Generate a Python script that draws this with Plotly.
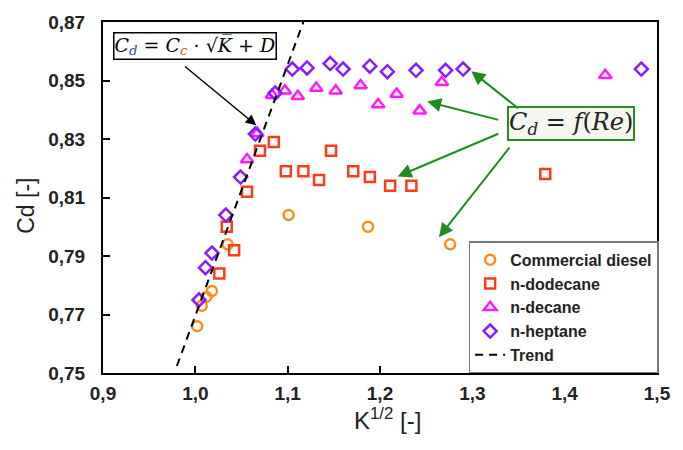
import plotly.graph_objects as go

# Discharge coefficient vs. square root of cavitation number
diesel_x = [1.002, 1.007, 1.012, 1.018, 1.035, 1.101, 1.187, 1.276]
diesel_y = [0.766, 0.773, 0.776, 0.778, 0.794, 0.804, 0.800, 0.794]

dodecane_x = [1.026, 1.034, 1.042, 1.056, 1.070, 1.085, 1.098, 1.117, 1.134,
              1.147, 1.171, 1.189, 1.211, 1.234, 1.379]
dodecane_y = [0.784, 0.800, 0.792, 0.812, 0.826, 0.829, 0.819, 0.819, 0.816,
              0.826, 0.819, 0.817, 0.814, 0.814, 0.818]

decane_x = [1.056, 1.067, 1.083, 1.097, 1.111, 1.131, 1.152, 1.179, 1.198,
            1.218, 1.243, 1.267, 1.444]
decane_y = [0.823, 0.832, 0.845, 0.8465, 0.8446, 0.8474, 0.8465, 0.8483, 0.8418,
            0.8454, 0.8397, 0.8494, 0.8518]

heptane_x = [1.004, 1.011, 1.018, 1.033, 1.049, 1.065, 1.0865, 1.105, 1.121,
             1.146, 1.160, 1.189, 1.208, 1.239, 1.271, 1.290, 1.483]
heptane_y = [0.775, 0.786, 0.791, 0.804, 0.817, 0.8317, 0.8457, 0.8539, 0.8543,
             0.8558, 0.8539, 0.8549, 0.853, 0.8535, 0.8535, 0.8539, 0.8539]

trend_x = [0.980, 1.117]
trend_y = [0.7524, 0.870]

x_ticks = [0.9, 1.0, 1.1, 1.2, 1.3, 1.4, 1.5]
y_ticks = [0.75, 0.77, 0.79, 0.81, 0.83, 0.85, 0.87]

SANS = "Arial, Liberation Sans, sans-serif"
SERIF = "DejaVu Serif, serif"

fig = go.Figure()

def add_series(x, y, name, symbol, color, size):
    fig.add_trace(go.Scatter(
        x=x, y=y, mode="markers", name=name,
        marker=dict(symbol=symbol, size=size, color=color,
                    line=dict(color=color, width=2.5)),
    ))

add_series(diesel_x, diesel_y, "Commercial diesel", "circle-open", "#FF8C1A", 10)
add_series(dodecane_x, dodecane_y, "n-dodecane", "square-open", "#FF3B1F", 10)
add_series(decane_x, decane_y, "n-decane", "triangle-up-open", "#FF1AFF", 11)
add_series(heptane_x, heptane_y, "n-heptane", "diamond-open", "#8A1AFF", 10)

fig.add_trace(go.Scatter(
    x=trend_x, y=trend_y, mode="lines", name="Trend",
    line=dict(color="black", width=2, dash="8px,6px"),
))

# Equation boxes
fig.add_annotation(
    x=0.9995, y=0.8619, xref="x", yref="y", showarrow=False,
    text=("<i>C<sub><span style='color:#2F5597'>d</span></sub></i> = "
          "<i>C<sub><span style='color:#C55A11'>c</span></sub></i> · √<i>K̅</i> + <i>D</i>"),
    font=dict(family=SERIF, size=19, color="black"),
    bgcolor="white", bordercolor="black", borderwidth=1.5, borderpad=0,
)
fig.add_annotation(
    x=1.4069, y=0.8353, xref="x", yref="y", showarrow=False,
    text="<i>C<sub>d</sub></i> = <i>f</i>(<i>Re</i>)",
    font=dict(family=SERIF, size=24, color="#222222"),
    bgcolor="#F6F6F0", bordercolor="#2A8C22", borderwidth=2, borderpad=0,
)

# Pointer arrows
fig.add_annotation(
    x=1.066, y=0.8347, ax=0.9872, ay=0.8552, xref="x", yref="y", axref="x", ayref="y",
    text="", showarrow=True, arrowhead=2, arrowsize=1.4, arrowwidth=1.5, arrowcolor="black",
)
green_arrows = [
    ((1.3511, 0.8401), (1.2989, 0.8532)),
    ((1.3298, 0.8364), (1.2511, 0.8428)),
    ((1.3298, 0.8320), (1.2191, 0.8172)),
    ((1.3415, 0.8276), (1.2638, 0.7964)),
]
for (tx, ty), (hx, hy) in green_arrows:
    fig.add_annotation(
        x=hx, y=hy, ax=tx, ay=ty, xref="x", yref="y", axref="x", ayref="y",
        text="", showarrow=True, arrowhead=2, arrowsize=1.4, arrowwidth=2,
        arrowcolor="#1E8C1E",
    )

# Axis titles
fig.add_annotation(
    x=0.514, y=-0.132, xref="paper", yref="paper", showarrow=False,
    xanchor="center", yanchor="middle",
    text="K<sup>1/2</sup> [-]", font=dict(family=SANS, size=24, color="#222222"),
)
fig.add_annotation(
    x=-0.1383, y=0.4776, xref="paper", yref="paper", showarrow=False,
    xanchor="center", yanchor="middle", textangle=-90,
    text="Cd [-]", font=dict(family=SANS, size=23, color="#222222"),
)

axis_common = dict(
    showgrid=False, zeroline=False, showline=True, linecolor="black", linewidth=2,
    mirror=True, ticks="inside", ticklen=7, tickwidth=2, tickcolor="black",
    tickfont=dict(family=SANS, size=19, color="#222222", weight="bold"),
)

fig.update_xaxes(
    range=[0.9, 1.5], tickvals=x_ticks, tickformat=".1f",
    ticklabelstandoff=2, **axis_common,
)
fig.update_yaxes(
    range=[0.75, 0.87], tickvals=y_ticks, tickformat=".2f",
    ticklabelstandoff=12, **axis_common,
)

fig.update_layout(
    width=683, height=450,
    margin=dict(l=103, r=16, t=16, b=77),
    paper_bgcolor="white", plot_bgcolor="white",
    separators=", ",
    showlegend=True,
    legend=dict(
        x=0.660, y=0.3754, xanchor="left", yanchor="top",
        bgcolor="white", bordercolor="#777777", borderwidth=1.5,
        font=dict(family=SANS, size=16, color="#222222", weight="bold"),
        itemwidth=30, tracegroupgap=0,
    ),
)

fig.write_html("out.html")
